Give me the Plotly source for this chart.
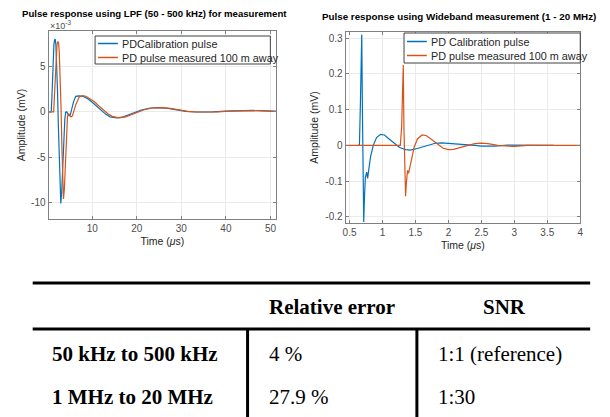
import plotly.graph_objects as go

# ---------------- data ----------------
# Left: LPF (50 - 500 kHz), time in us, amplitude in 1e-3 mV
lpf_t_cal = [0.2, 0.8, 0.95, 1.1, 1.25, 1.4, 1.55, 1.7, 1.85, 2.0, 2.2, 2.4, 2.6, 2.8, 2.95, 3.15, 3.35, 3.6, 3.85, 4.05, 4.3,
             4.6, 4.85, 5.1, 5.4, 5.8, 6.3, 7.0, 8.0, 9.0, 10.0, 11.0, 12.0, 13.0, 14.0, 15.5, 17.0, 19.0, 21.0, 23.0,
             25.0, 27.0, 29.0, 31.0, 33.0, 35.0, 37.0, 40.0, 43.0, 46.0, 49.0, 51.3]
lpf_v_cal = [0.0, 0.0, 1.5, 4.0, 6.0, 7.4, 7.9, 8.0, 7.4, 5.8, 2.5, -1.5, -5.5, -8.8, -10.1, -8.8, -6.0, -3.0, -0.8, -0.05, 0.0,
             -0.3, -0.45, -0.3, 0.3, 1.1, 1.7, 1.75, 1.7, 1.45, 1.05, 0.6, 0.15, -0.25, -0.55, -0.68, -0.55, -0.15, 0.2, 0.42,
             0.47, 0.38, 0.2, 0.05, -0.02, -0.03, 0.0, 0.08, 0.13, 0.15, 0.1, 0.05]
lpf_t_meas = [0.2, 1.35, 1.5, 1.7, 1.9, 2.1, 2.3, 2.45, 2.6, 2.8, 3.0, 3.2, 3.4, 3.55, 3.75, 3.95, 4.2, 4.45, 4.7, 4.95,
              5.25, 5.55, 5.9, 6.4, 7.1, 7.8, 8.6, 9.5, 10.5, 11.5, 12.5, 13.5, 14.5, 16.0, 17.5, 19.5, 21.5, 23.5,
              25.5, 27.5, 29.5, 31.5, 33.5, 35.5, 38.0, 41.0, 44.0, 47.0, 50.0, 51.3]
lpf_v_meas = [0.0, 0.0, 1.5, 4.2, 6.3, 7.4, 7.75, 7.6, 6.6, 4.0, 0.5, -4.0, -8.0, -9.6, -8.5, -5.5, -2.5, -0.5, -0.2, -0.35,
              -0.55, -0.45, 0.1, 0.9, 1.65, 1.78, 1.72, 1.45, 1.1, 0.65, 0.2, -0.2, -0.5, -0.66, -0.55, -0.15, 0.2, 0.42,
              0.47, 0.38, 0.2, 0.05, -0.02, -0.03, 0.0, 0.08, 0.13, 0.14, 0.08, 0.05]

# Right: Wideband (1 - 20 MHz), time in us, amplitude in mV
wb_t_cal = [0.62, 0.65, 0.665, 0.675, 0.685, 0.695, 0.705, 0.715, 0.725, 0.74, 0.76, 0.775, 0.79, 0.82, 0.86, 0.91,
            0.97, 1.03, 1.1, 1.18, 1.26, 1.35, 1.42, 1.5, 1.6, 1.7, 1.8, 1.9, 2.0, 2.2, 2.4, 2.5, 2.7, 2.9, 3.1, 3.3, 3.6]
wb_v_cal = [0.0, 0.0, 0.12, 0.24, 0.31, 0.1, -0.1, -0.214, -0.15, -0.09, -0.075, -0.092, -0.07, -0.03, 0.0, 0.022,
            0.031, 0.029, 0.018, 0.005, -0.006, -0.012, -0.013, -0.01, -0.004, 0.002, 0.006, 0.007, 0.006, 0.003, 0.0,
            -0.002, -0.002, 0.001, 0.001, 0.0, 0.0]
wb_t_meas = [0.44, 1.27, 1.29, 1.305, 1.315, 1.325, 1.34, 1.35, 1.36, 1.38, 1.395, 1.41, 1.44, 1.48, 1.53, 1.6, 1.67,
             1.75, 1.83, 1.92, 2.0, 2.08, 2.2, 2.3, 2.4, 2.5, 2.6, 2.75, 2.9, 3.0, 3.2, 4.0]
wb_v_meas = [0.0, 0.0, 0.05, 0.17, 0.225, 0.05, -0.12, -0.142, -0.11, -0.07, -0.078, -0.065, -0.035, -0.005, 0.018,
             0.029, 0.027, 0.016, 0.003, -0.008, -0.012, -0.011, -0.005, 0.001, 0.005, 0.0065, 0.005, 0.0, -0.003,
             -0.003, 0.0, 0.0]

series_names_left = ["PDCalibration pulse", "PD pulse measured 100 m away"]
series_names_right = ["PD Calibration pulse", "PD pulse measured 100 m away"]

lpf_xticks = [10, 20, 30, 40, 50]
lpf_yticks = [-10, -5, 0, 5]
lpf_yticklabels = ["-10", "-5", "0", "5"]
wb_xticks = [0.5, 1, 1.5, 2, 2.5, 3, 3.5, 4]
wb_xticklabels = ["0.5", "1", "1.5", "2", "2.5", "3", "3.5", "4"]
wb_yticks = [-0.2, -0.1, 0, 0.1, 0.2, 0.3]
wb_yticklabels = ["-0.2", "-0.1", "0", "0.1", "0.2", "0.3"]

table_header = ["", "Relative error", "SNR"]
table_rows = [["50 kHz to 500 kHz", "4 %", "1:1 (reference)"],
              ["1 MHz to 20 MHz", "27.9 %", "1:30"]]

# ---------------- styling ----------------
W, H = 610, 417
BLUE = "#0072BD"
ORANGE = "#D95319"
AX = "#808080"
TICKC = "#4d4d4d"
SANS = "Liberation Sans, Arial, sans-serif"
SERIF = "Liberation Serif, Times New Roman, serif"


def px(x):
    return x / W


def py(y):
    return 1 - y / H


fig = go.Figure()
fig.add_trace(go.Scatter(x=lpf_t_cal, y=lpf_v_cal, mode="lines", name=series_names_left[0],
                         line=dict(color=BLUE, width=1.2), xaxis="x", yaxis="y", showlegend=False))
fig.add_trace(go.Scatter(x=lpf_t_meas, y=lpf_v_meas, mode="lines", name=series_names_left[1],
                         line=dict(color=ORANGE, width=1.2), xaxis="x", yaxis="y", showlegend=False))
fig.add_trace(go.Scatter(x=wb_t_cal, y=wb_v_cal, mode="lines", name=series_names_right[0],
                         line=dict(color=BLUE, width=1.2), xaxis="x2", yaxis="y2", showlegend=False))
fig.add_trace(go.Scatter(x=wb_t_meas, y=wb_v_meas, mode="lines", name=series_names_right[1],
                         line=dict(color=ORANGE, width=1.2), xaxis="x2", yaxis="y2", showlegend=False))

axis_common = dict(showline=True, linecolor=AX, linewidth=1, mirror="ticks", ticks="inside", ticklen=3,
                   tickcolor=AX, showgrid=True, gridcolor="#ebebeb", gridwidth=1, zeroline=False,
                   tickfont=dict(family=SANS, size=10, color=TICKC))

fig.update_layout(
    width=W, height=H, margin=dict(l=0, r=0, t=0, b=0),
    paper_bgcolor="white", plot_bgcolor="white",
    xaxis=dict(domain=[px(46), px(276)], range=[0.2, 51.3], tickvals=lpf_xticks, anchor="y",
               title=dict(text="Time (<i>μ</i>s)", font=dict(family=SANS, size=10.5, color="#262626"), standoff=4),
               **axis_common),
    yaxis=dict(domain=[py(219), py(31)], range=[-11.8, 8.9], tickvals=lpf_yticks, ticktext=lpf_yticklabels,
               anchor="x",
               title=dict(text="Amplitude (mV)", font=dict(family=SANS, size=10.5, color="#262626"), standoff=3),
               **axis_common),
    xaxis2=dict(domain=[px(346), px(583)], range=[0.44, 4.0], tickvals=wb_xticks, ticktext=wb_xticklabels,
                anchor="y2",
                title=dict(text="Time (<i>μ</i>s)", font=dict(family=SANS, size=10.5, color="#262626"), standoff=4),
                **axis_common),
    yaxis2=dict(domain=[py(223), py(32)], range=[-0.217, 0.317], tickvals=wb_yticks, ticktext=wb_yticklabels,
                anchor="x2",
                title=dict(text="Amplitude (mV)", font=dict(family=SANS, size=10.5, color="#262626"), standoff=4),
                **axis_common),
)

shapes = []
annotations = []

# titles
annotations.append(dict(text="<b>Pulse response using LPF (50 - 500 kHz) for measurement</b>",
                        x=px(153), y=py(13), xref="paper", yref="paper", showarrow=False,
                        font=dict(family=SANS, size=9.6, color="black"), xanchor="center", yanchor="middle"))
annotations.append(dict(text="<b>Pulse response using Wideband measurement (1 - 20 MHz)</b>",
                        x=px(461), y=py(17), xref="paper", yref="paper", showarrow=False,
                        font=dict(family=SANS, size=9.8, color="black"), xanchor="center", yanchor="middle"))
annotations.append(dict(text="×10<sup>-3</sup>", x=px(45), y=py(25), xref="paper", yref="paper", showarrow=False,
                        font=dict(family=SANS, size=9, color=TICKC), xanchor="left", yanchor="middle"))


# legends (drawn in pixel coordinates)
def legend(x0, y0, x1, y1, rows, names):
    shapes.append(dict(type="rect", xref="paper", yref="paper", x0=px(x0), x1=px(x1), y0=py(y1), y1=py(y0),
                       line=dict(color="#404040", width=1), fillcolor="white", layer="above"))
    for (yy, col), name in zip(rows, names):
        shapes.append(dict(type="line", xref="paper", yref="paper", x0=px(x0 + 3), x1=px(x0 + 23),
                           y0=py(yy), y1=py(yy), line=dict(color=col, width=1.5), layer="above"))
        annotations.append(dict(text=name, x=px(x0 + 25), y=py(yy), xref="paper", yref="paper",
                                showarrow=False, xanchor="left", yanchor="middle",
                                font=dict(family=SANS, size=10.8, color="#262626")))


legend(93, 36, 270, 64, [(43.5, BLUE), (57.5, ORANGE)], series_names_left)
legend(405, 33, 583, 63, [(41.5, BLUE), (55.5, ORANGE)], series_names_right)

# table
TL = 3
shapes.append(dict(type="line", xref="paper", yref="paper", x0=px(30), x1=px(593), y0=py(283), y1=py(283),
                   line=dict(color="black", width=TL)))
shapes.append(dict(type="line", xref="paper", yref="paper", x0=px(30), x1=px(593), y0=py(329), y1=py(329),
                   line=dict(color="black", width=TL)))
for xv in (247, 418):
    shapes.append(dict(type="line", xref="paper", yref="paper", x0=px(xv), x1=px(xv), y0=py(329), y1=py(420),
                       line=dict(color="black", width=TL)))

annotations.append(dict(text="<b>" + table_header[1] + "</b>", x=px(332), y=py(307), xref="paper", yref="paper",
                        showarrow=False, xanchor="center", yanchor="middle",
                        font=dict(family=SERIF, size=21, color="black")))
annotations.append(dict(text="<b>" + table_header[2] + "</b>", x=px(506), y=py(307), xref="paper", yref="paper",
                        showarrow=False, xanchor="center", yanchor="middle",
                        font=dict(family=SERIF, size=21, color="black")))
col_x = [47, 267, 437]
row_y = [354, 397]
for r, row in enumerate(table_rows):
    for c, cell in enumerate(row):
        txt = "<b>" + cell + "</b>" if c == 0 else cell
        annotations.append(dict(text=txt, x=px(col_x[c]), y=py(row_y[r]), xref="paper", yref="paper",
                                showarrow=False, xanchor="left", yanchor="middle",
                                font=dict(family=SERIF, size=21, color="black")))

fig.update_layout(shapes=shapes, annotations=annotations)
fig.write_html("out.html")
